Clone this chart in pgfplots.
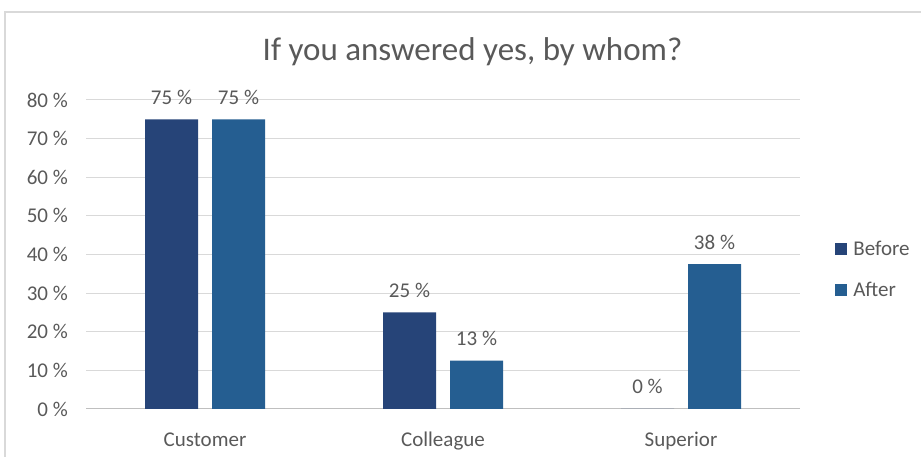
\documentclass[border=0pt]{standalone}
\usepackage{pgfplots}
\pgfplotsset{compat=1.18}
\usepackage{fontspec}
\setmainfont{Carlito}
\definecolor{before}{HTML}{264478}
\definecolor{after}{HTML}{255E91}
\definecolor{txt}{HTML}{595959}
\definecolor{gridc}{HTML}{D9D9D9}
\definecolor{axc}{HTML}{BFBFBF}
\begin{document}
\begin{tikzpicture}[x=1pt,y=1pt]
\useasboundingbox (0,0) rectangle (921,457);
\draw[gridc, line width=1.5pt] (5,0) -- (5,445) -- (921,445);
\node[txt, anchor=base, font=\fontsize{33}{40}\selectfont] at (472.5,396) {If you answered yes, by whom?};
\begin{axis}[
  at={(86pt,48pt)}, anchor=south west,
  width=714pt, height=309pt, scale only axis,
  xmin=-0.5, xmax=2.5, ymin=0, ymax=80,
  ybar=14pt, bar width=53pt,
  axis x line*=bottom, axis y line*=left,
  y axis line style={draw=none},
  x axis line style={draw=axc, line width=1pt},
  tick style={draw=none},
  ymajorgrids, grid style={gridc, line width=1pt},
  ytick={0,10,...,80},
  /pgf/number format/assume math mode=true,
  yticklabel={\pgfmathprintnumber{\tick}~\%},
  yticklabel style={anchor=east, inner sep=0pt, xshift=-18pt, text=txt, font=\fontsize{21}{25}\selectfont},
  xtick={0,1,2}, xticklabels={Customer,Colleague,Superior},
  xticklabel style={anchor=base, yshift=-33pt, text=txt, font=\fontsize{21}{25}\selectfont},
  point meta=explicit symbolic,
  nodes near coords,
  nodes near coords style={anchor=base, yshift=15pt, inner sep=0pt, text=txt, font=\fontsize{21}{25}\selectfont},
  legend style={at={(1.045,0.4515)}, anchor=west, draw=none, fill=none,
    font=\fontsize{21}{25}\selectfont, text=txt, row sep=23pt,
    nodes={inner sep=1pt},
    /tikz/every odd column/.append style={column sep=5pt}},
  legend cell align=left,
  legend image code/.code={\path[#1] (0pt,-6pt) rectangle (12pt,6pt);},
]
\addplot[fill=before, draw=none] coordinates {(0,75) [75~\%] (1,25) [25~\%] (2,0) [0~\%]};
\addplot[fill=after, draw=none] coordinates {(0,75) [75~\%] (1,12.5) [13~\%] (2,37.5) [38~\%]};
\legend{Before, After}
\end{axis}
\end{tikzpicture}
\end{document}
